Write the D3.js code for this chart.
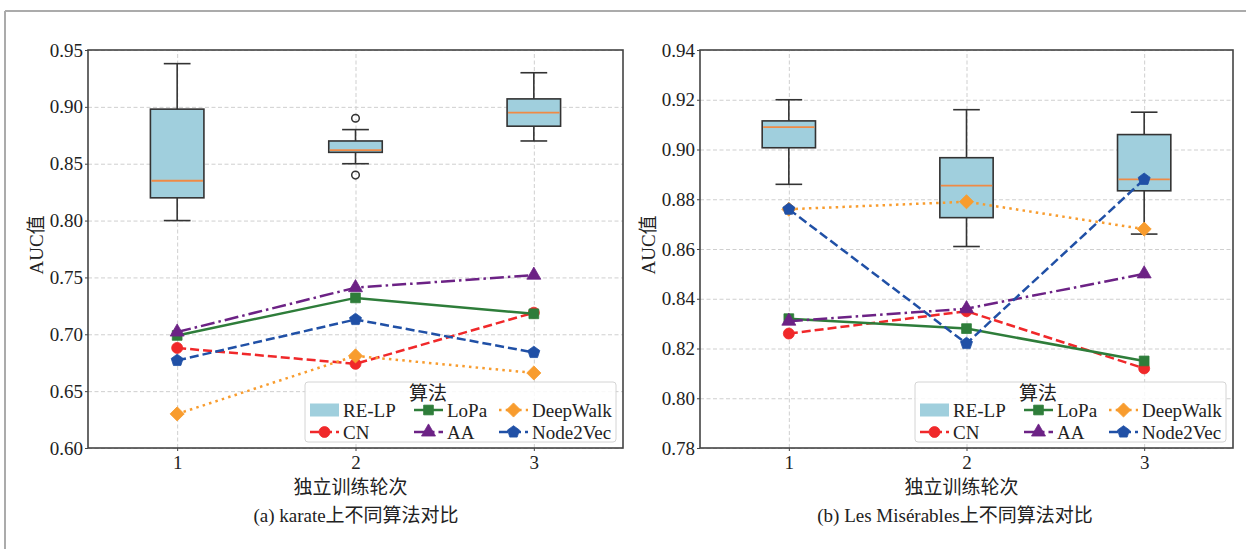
<!DOCTYPE html>
<html>
<head>
<meta charset="utf-8">
<script src="https://cdn.jsdelivr.net/npm/d3@7/dist/d3.min.js"></script>
<style>
  body { margin: 0; background: #fff; }
</style>
</head>
<body>
<div id="chart"></div>
<script>
// rounds on the x axis
const rounds = [1, 2, 3]

// karate: RE-LP box stats per round
const karateWhiskerLow  = [0.800, 0.850, 0.870]
const karateQ1          = [0.820, 0.860, 0.883]
const karateMedian      = [0.835, 0.862, 0.895]
const karateQ3          = [0.898, 0.870, 0.907]
const karateWhiskerHigh = [0.938, 0.880, 0.930]
const karateOutliers    = [[], [0.890, 0.840], []]
// karate: other methods
const karateCN       = [0.688, 0.674, 0.719]
const karateLoPa     = [0.699, 0.732, 0.718]
const karateAA       = [0.702, 0.741, 0.752]
const karateDeepWalk = [0.630, 0.681, 0.666]
const karateNode2Vec = [0.677, 0.713, 0.684]
const karateTicks = [0.60, 0.65, 0.70, 0.75, 0.80, 0.85, 0.90, 0.95]

// Les Misérables: RE-LP box stats per round
const lesWhiskerLow  = [0.886, 0.861, 0.866]
const lesQ1          = [0.9007, 0.8726, 0.8834]
const lesMedian      = [0.909, 0.8855, 0.888]
const lesQ3          = [0.9115, 0.8967, 0.906]
const lesWhiskerHigh = [0.920, 0.916, 0.915]
const lesOutliers    = [[], [], []]
// Les Misérables: other methods
const lesCN       = [0.826, 0.835, 0.812]
const lesLoPa     = [0.832, 0.828, 0.815]
const lesAA       = [0.831, 0.836, 0.850]
const lesDeepWalk = [0.876, 0.879, 0.868]
const lesNode2Vec = [0.876, 0.822, 0.888]
const lesTicks = [0.78, 0.80, 0.82, 0.84, 0.86, 0.88, 0.90, 0.92, 0.94]

const methodNames = ['CN', 'LoPa', 'AA', 'DeepWalk', 'Node2Vec']

// line styles per method
const styles = {
   CN:       { color: '#f0282a', dash: '9,4',        marker: 'circle' },
   LoPa:     { color: '#2e7d3a', dash: null,         marker: 'square' },
   AA:       { color: '#6c2285', dash: '14,4,2.5,4', marker: 'triangle' },
   DeepWalk: { color: '#f89c2e', dash: '2.5,4.2',    marker: 'diamond' },
   Node2Vec: { color: '#2050a6', dash: '9,4',        marker: 'pentagon' }
}
const boxFill = '#a0cfdd'
const medianColor = '#f08a45'
const fontFamily = '"Liberation Serif", "Times New Roman", "Noto Sans CJK SC", serif'
const font = 19

const W = 1246, H = 549
const svg = d3.select('#chart').append('svg')
   .attr('width', W)
   .attr('height', H)

// outer frame (only top and left edges show)
svg.append('line').attr('x1', 5).attr('x2', W).attr('y1', 11).attr('y2', 11)
   .attr('stroke', '#ababab').attr('stroke-width', 2)
svg.append('line').attr('x1', 5).attr('x2', 5).attr('y1', 11).attr('y2', H)
   .attr('stroke', '#ababab').attr('stroke-width', 2)

function styleText(sel) {
   return sel.attr('font-family', fontFamily)
      .style('font-family', fontFamily)
      .style('font-size', font + 'px')
      .attr('fill', '#222')
}

function pentagonPath(r) {
   let pts = d3.range(5).map(i => {
      let a = -Math.PI / 2 + i * 2 * Math.PI / 5
      return [r * Math.cos(a), r * Math.sin(a)]
   })
   return 'M' + pts.map(p => p.join(',')).join('L') + 'Z'
}

function markerPath(kind) {
   if (kind === 'circle') return d3.symbol(d3.symbolCircle, 95)()
   if (kind === 'square') return d3.symbol(d3.symbolSquare, 95)()
   if (kind === 'triangle') return d3.symbol(d3.symbolTriangle, 85)()
   if (kind === 'diamond') return d3.symbol(d3.symbolSquare, 100)()
   return pentagonPath(6.3)
}

function addMarker(g, kind, x, y, color) {
   g.append('path')
      .attr('d', markerPath(kind))
      .attr('transform', 'translate(' + x + ',' + y + ')' + (kind === 'diamond' ? ' rotate(45)' : ''))
      .attr('fill', color)
      .attr('stroke', color)
      .attr('stroke-width', 0.8)
}

function drawPanel(p) {
   let g = svg.append('g')

   let xScale = d3.scaleLinear().domain([0.5, 3.5]).range([p.left, p.right])
   let yScale = d3.scaleLinear().domain([p.ticks[0], p.ticks[p.ticks.length - 1]]).range([p.bottom, p.top])

   // grid
   g.append('g')
      .attr('transform', 'translate(' + p.left + ',0)')
      .call(d3.axisLeft(yScale).tickValues(p.ticks).tickSize(-(p.right - p.left)).tickFormat(''))
      .call(a => a.select('.domain').remove())
      .selectAll('line')
         .attr('stroke', '#cfcfcf').attr('stroke-dasharray', '4,2.5')
   g.append('g')
      .attr('transform', 'translate(0,' + p.bottom + ')')
      .call(d3.axisBottom(xScale).tickValues(rounds).tickSize(-(p.bottom - p.top)).tickFormat(''))
      .call(a => a.select('.domain').remove())
      .selectAll('line')
         .attr('stroke', '#cfcfcf').attr('stroke-dasharray', '4,2.5')

   // y axis labels
   let yAxis = g.append('g')
      .attr('transform', 'translate(' + p.left + ',0)')
      .call(d3.axisLeft(yScale).tickValues(p.ticks).tickSize(3).tickPadding(2).tickFormat(d3.format('.2f')))
   yAxis.attr('font-family', null).attr('font-size', null)
   yAxis.select('.domain').remove()
   yAxis.selectAll('line').attr('stroke', '#444')
   styleText(yAxis.selectAll('text'))

   // x axis labels
   let xAxis = g.append('g')
      .attr('transform', 'translate(0,' + p.bottom + ')')
      .call(d3.axisBottom(xScale).tickValues(rounds).tickSize(3).tickPadding(5).tickFormat(d3.format('d')))
   xAxis.attr('font-family', null).attr('font-size', null)
   xAxis.select('.domain').remove()
   xAxis.selectAll('line').attr('stroke', '#444')
   styleText(xAxis.selectAll('text'))

   // boxplots
   let half = (xScale(1.15) - xScale(1))
   let capHalf = half / 2
   rounds.forEach((r, i) => {
      let cx = xScale(r)
      g.append('line').attr('x1', cx).attr('x2', cx)
         .attr('y1', yScale(p.whiskerHigh[i])).attr('y2', yScale(p.q3[i]))
         .attr('stroke', '#333').attr('stroke-width', 1.6)
      g.append('line').attr('x1', cx).attr('x2', cx)
         .attr('y1', yScale(p.q1[i])).attr('y2', yScale(p.whiskerLow[i]))
         .attr('stroke', '#333').attr('stroke-width', 1.6)
      ;[p.whiskerHigh[i], p.whiskerLow[i]].forEach(v => {
         g.append('line').attr('x1', cx - capHalf).attr('x2', cx + capHalf)
            .attr('y1', yScale(v)).attr('y2', yScale(v))
            .attr('stroke', '#333').attr('stroke-width', 1.6)
      })
      g.append('rect')
         .attr('x', cx - half).attr('width', 2 * half)
         .attr('y', yScale(p.q3[i])).attr('height', yScale(p.q1[i]) - yScale(p.q3[i]))
         .attr('fill', boxFill).attr('stroke', '#333').attr('stroke-width', 1.6)
      g.append('line').attr('x1', cx - half + 1).attr('x2', cx + half - 1)
         .attr('y1', yScale(p.median[i])).attr('y2', yScale(p.median[i]))
         .attr('stroke', medianColor).attr('stroke-width', 1.8)
      p.outliers[i].forEach(v => {
         g.append('circle').attr('cx', cx).attr('cy', yScale(v)).attr('r', 3.8)
            .attr('fill', 'none').attr('stroke', '#333').attr('stroke-width', 1.5)
      })
   })

   // method lines
   methodNames.forEach(name => {
      let s = styles[name]
      let vals = p.series[name]
      let line = d3.line().x((d, i) => xScale(rounds[i])).y(d => yScale(d))
      g.append('path')
         .attr('d', line(vals))
         .attr('fill', 'none')
         .attr('stroke', s.color)
         .attr('stroke-width', 2.5)
         .attr('stroke-dasharray', s.dash)
      vals.forEach((v, i) => addMarker(g, s.marker, xScale(rounds[i]), yScale(v), s.color))
   })

   // spines
   g.append('rect')
      .attr('x', p.left).attr('y', p.top)
      .attr('width', p.right - p.left).attr('height', p.bottom - p.top)
      .attr('fill', 'none').attr('stroke', '#444').attr('stroke-width', 1.6)

   // legend
   let lx = p.right - 318, ly = p.bottom - 66
   let leg = g.append('g').attr('transform', 'translate(' + lx + ',' + ly + ')')
   leg.append('rect')
      .attr('width', 311).attr('height', 60).attr('rx', 3)
      .attr('fill', 'white').attr('fill-opacity', 0.85)
      .attr('stroke', '#d4d4d4').attr('stroke-width', 1)
   styleText(leg.append('text')
      .attr('x', 123).attr('y', 18)
      .attr('text-anchor', 'middle')
      .text('算法'))
   let entries = ['RE-LP', 'CN', 'LoPa', 'AA', 'DeepWalk', 'Node2Vec']
   let colX = [5, 109, 194]
   let rowY = [28, 50]
   entries.forEach((name, k) => {
      let col = Math.floor(k / 2), row = k % 2
      let hx = colX[col], hy = rowY[row]
      if (name === 'RE-LP') {
         leg.append('rect').attr('x', hx).attr('y', hy - 6.5).attr('width', 29).attr('height', 13)
            .attr('fill', boxFill)
      } else {
         let s = styles[name]
         leg.append('line').attr('x1', hx).attr('x2', hx + 29).attr('y1', hy).attr('y2', hy)
            .attr('stroke', s.color).attr('stroke-width', 2.5).attr('stroke-dasharray', s.dash)
         addMarker(leg, s.marker, hx + 14.5, hy, s.color)
      }
      styleText(leg.append('text')
         .attr('x', hx + 33).attr('y', hy + 6.5)
         .text(name))
   })

   // axis titles
   styleText(g.append('text')
      .attr('transform', 'translate(' + (p.left - 52) + ',' + ((p.top + p.bottom) / 2 - 4) + ') rotate(-90)')
      .attr('text-anchor', 'middle')
      .attr('dominant-baseline', 'central')
      .text('AUC值'))
   styleText(g.append('text')
      .attr('x', (p.left + p.right) / 2 - 5).attr('y', 494)
      .attr('text-anchor', 'middle')
      .text('独立训练轮次'))
   styleText(g.append('text')
      .attr('x', p.captionX).attr('y', 522)
      .attr('text-anchor', 'middle')
      .text(p.caption))
}

drawPanel({
   left: 88, right: 623, top: 50, bottom: 448,
   ticks: karateTicks,
   whiskerLow: karateWhiskerLow, q1: karateQ1, median: karateMedian,
   q3: karateQ3, whiskerHigh: karateWhiskerHigh, outliers: karateOutliers,
   series: { CN: karateCN, LoPa: karateLoPa, AA: karateAA, DeepWalk: karateDeepWalk, Node2Vec: karateNode2Vec },
   caption: '(a) karate上不同算法对比', captionX: 356
})

drawPanel({
   left: 700, right: 1233, top: 50, bottom: 448,
   ticks: lesTicks,
   whiskerLow: lesWhiskerLow, q1: lesQ1, median: lesMedian,
   q3: lesQ3, whiskerHigh: lesWhiskerHigh, outliers: lesOutliers,
   series: { CN: lesCN, LoPa: lesLoPa, AA: lesAA, DeepWalk: lesDeepWalk, Node2Vec: lesNode2Vec },
   caption: '(b) Les Misérables上不同算法对比', captionX: 955
})
</script>
</body>
</html>
